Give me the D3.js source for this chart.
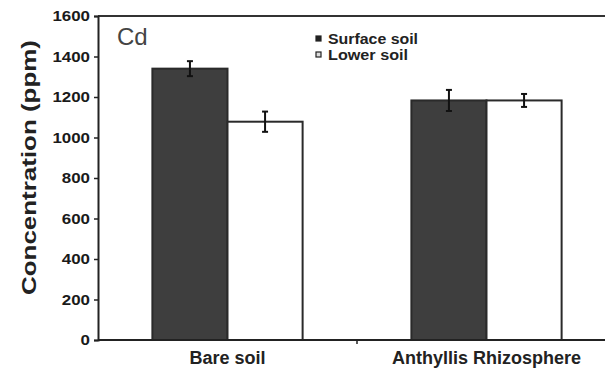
<!DOCTYPE html>
<html>
<head>
<meta charset="utf-8">
<script src="https://cdn.jsdelivr.net/npm/d3@7"></script>
<style>
  body { margin: 0; background: #fff; }
  svg { display: block; font-family: "Liberation Sans", Arial, sans-serif; }
</style>
</head>
<body>
<div id="chart"></div>
<script>

// data
var sites = ["Bare soil", "Anthyllis Rhizosphere"];
var layers = ["Surface soil", "Lower soil"];
var surfaceVals = [1340, 1183];
var surfaceErr = [37, 52];
var lowerVals = [1078, 1183];
var lowerErr = [50, 32];
var yTicks = [0, 200, 400, 600, 800, 1000, 1200, 1400, 1600];

var rows = [];
sites.forEach(function(s, i) {
  rows.push({site: s, layer: layers[0], v: surfaceVals[i], e: surfaceErr[i]});
  rows.push({site: s, layer: layers[1], v: lowerVals[i], e: lowerErr[i]});
});

var W = 605, H = 369;
var margin = {top: 16, right: 0, bottom: 29, left: 98},
  width = W - margin.left - margin.right,
  height = H - margin.top - margin.bottom;

var svg = d3.select("#chart")
  .append("svg")
    .attr("width", W)
    .attr("height", H)
  .append("g")
    .attr("transform", "translate(" + margin.left + "," + margin.top + ")");

// scales
var x = d3.scaleBand()
  .domain(sites)
  .range([0, 518])
  .paddingInner(0.42)
  .paddingOuter(0.21);

var xSub = d3.scaleBand()
  .domain(layers)
  .range([0, x.bandwidth()]);

var y = d3.scaleLinear()
  .domain([0, 1600])
  .range([height, 0]);

var fill = d3.scaleOrdinal().domain(layers).range(["#3e3e3e", "#ffffff"]);

// top frame line
svg.append("line")
  .attr("x1", 0).attr("x2", width)
  .attr("y1", y(1600)).attr("y2", y(1600))
  .attr("stroke", "#333").attr("stroke-width", 2);

// bars
svg.selectAll(".bar")
  .data(rows)
  .enter()
  .append("rect")
    .attr("class", "bar")
    .attr("x", function(d) { return x(d.site) + xSub(d.layer); })
    .attr("y", function(d) { return y(d.v); })
    .attr("width", xSub.bandwidth())
    .attr("height", function(d) { return height - y(d.v); })
    .attr("fill", function(d) { return fill(d.layer); })
    .attr("stroke", "#2a2a2a")
    .attr("stroke-width", 2);

// error bars
var eb = svg.selectAll(".err")
  .data(rows)
  .enter()
  .append("g")
    .attr("class", "err")
    .attr("transform", function(d) {
      return "translate(" + (x(d.site) + xSub(d.layer) + xSub.bandwidth() / 2) + ",0)";
    })
    .attr("stroke", "#111")
    .attr("stroke-width", 2);
eb.append("line")
  .attr("y1", function(d) { return y(d.v + d.e); })
  .attr("y2", function(d) { return y(d.v - d.e); });
eb.append("line")
  .attr("x1", -3).attr("x2", 3)
  .attr("y1", function(d) { return y(d.v + d.e); })
  .attr("y2", function(d) { return y(d.v + d.e); });
eb.append("line")
  .attr("x1", -3).attr("x2", 3)
  .attr("y1", function(d) { return y(d.v - d.e); })
  .attr("y2", function(d) { return y(d.v - d.e); });

// y axis
var yAxis = svg.append("g")
  .call(d3.axisLeft(y).tickValues(yTicks).tickFormat(d3.format("d")).tickSize(4).tickPadding(4));
yAxis.select(".domain").attr("stroke", "#222").attr("stroke-width", 2);
yAxis.selectAll(".tick line").attr("stroke", "#222").attr("stroke-width", 1.5);
yAxis.selectAll("text")
  .style("font-size", "15px")
  .style("font-weight", "bold")
  .attr("fill", "#1a1a1a")
  .attr("textLength", function(d) { return String(d).length * 9.4; })
  .attr("lengthAdjust", "spacingAndGlyphs");

// x axis
var xAxis = svg.append("g")
  .attr("transform", "translate(0," + height + ")")
  .call(d3.axisBottom(x).tickSize(0).tickPadding(11));
xAxis.select(".domain").attr("d", "M0,0H" + width).attr("stroke", "#222").attr("stroke-width", 2);
xAxis.selectAll("text")
  .style("font-size", "18px")
  .style("font-weight", "bold")
  .attr("fill", "#222");

// small separator tick between categories
svg.append("line")
  .attr("x1", x(sites[1]) - x.step() * x.paddingInner() / 2)
  .attr("x2", x(sites[1]) - x.step() * x.paddingInner() / 2)
  .attr("y1", height).attr("y2", height + 4)
  .attr("stroke", "#222").attr("stroke-width", 1.5);

// y axis title
svg.append("text")
  .attr("transform", "translate(" + (-62) + "," + 151.5 + ") rotate(-90)")
  .attr("text-anchor", "middle")
  .attr("textLength", 255)
  .attr("lengthAdjust", "spacingAndGlyphs")
  .style("font-size", "21px")
  .style("font-weight", "bold")
  .attr("fill", "#222")
  .text("Concentration (ppm)");

// panel tag
svg.append("text")
  .attr("x", 19)
  .attr("y", 29)
  .style("font-size", "24px")
  .attr("fill", "#444")
  .text("Cd");

// legend
var legendW = [90, 80];
var legend = svg.selectAll(".legend")
  .data(layers)
  .enter()
  .append("g")
    .attr("class", "legend")
    .attr("transform", function(d, i) { return "translate(218," + (23 + i * 16) + ")"; });
legend.append("rect")
  .attr("x", 0).attr("y", -3)
  .attr("width", 5).attr("height", 5)
  .attr("fill", function(d) { return d === layers[0] ? "#222" : "#ddd"; })
  .attr("stroke", "#222").attr("stroke-width", 1.2);
legend.append("text")
  .attr("x", 12)
  .attr("y", 5)
  .attr("textLength", function(d, i) { return legendW[i]; })
  .attr("lengthAdjust", "spacingAndGlyphs")
  .style("font-size", "14px")
  .style("font-weight", "bold")
  .attr("fill", "#222")
  .text(function(d) { return d; });

</script>
</body>
</html>
